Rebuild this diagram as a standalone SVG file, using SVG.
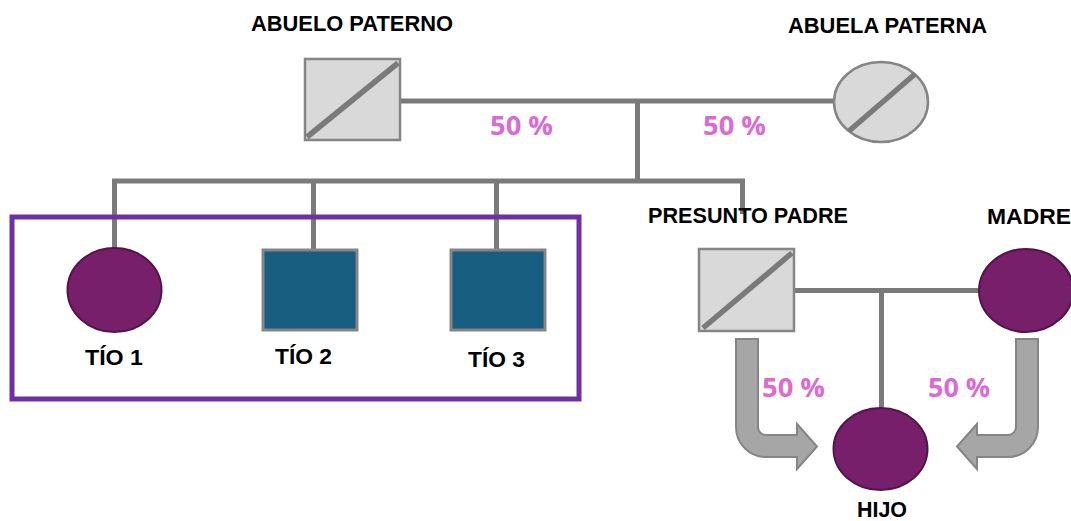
<svg xmlns="http://www.w3.org/2000/svg" width="1071" height="521" viewBox="0 0 1071 521">
<style>
.lbl{font-family:"Liberation Sans",Arial,sans-serif;font-weight:bold;fill:#000;font-size:22px;text-anchor:start}
.pct{font-family:"Open Sans","Liberation Sans",sans-serif;font-weight:bold;fill:#da6bd3;font-size:26px}
.con{stroke:#7a7a7a;stroke-width:5;fill:none}
.grey{fill:#d9d9d9;stroke:#858585;stroke-width:2.5}
.diag{stroke:#7a7a7a;stroke-width:5.5;fill:none}
.fem{fill:#771f6a;stroke:#531548;stroke-width:2}
.male{fill:#175e80;stroke:#858585;stroke-width:3}
.arrow{fill:#a6a6a6;stroke:#858585;stroke-width:2}
</style>
<g id="connectors">
<path class="con" d="M400,101 H834"/>
<path class="con" d="M637.5,101 V181"/>
<path class="con" d="M114.5,248 V181 H742.5 V214"/>
<path class="con" d="M313.5,181 V250"/>
<path class="con" d="M496.5,181 V250"/>
<path class="con" d="M794,290.5 H980"/>
<path class="con" d="M881.5,290.5 V409"/>
</g>
<g id="tios-box"><rect x="12" y="217" width="567" height="182" fill="none" stroke="#7030a0" stroke-width="5"/></g>
<g id="abuelo-paterno">
<rect class="grey" x="305" y="59" width="95" height="81"/>
<path class="diag" d="M307,137 L398,63"/>
<text class="lbl" x="251" y="31" textLength="202" lengthAdjust="spacingAndGlyphs">ABUELO PATERNO</text>
</g>
<g id="abuela-paterna">
<ellipse class="grey" cx="881" cy="102" rx="47" ry="40"/>
<path class="diag" d="M849,131 L915,74"/>
<text class="lbl" x="788" y="33" textLength="199" lengthAdjust="spacingAndGlyphs">ABUELA PATERNA</text>
</g>
<g id="pct-top">
<text class="pct" x="490" y="135" textLength="63" lengthAdjust="spacingAndGlyphs">50 %</text>
<text class="pct" x="703" y="135" textLength="63" lengthAdjust="spacingAndGlyphs">50 %</text>
</g>
<g id="tio1">
<ellipse class="fem" cx="114.5" cy="290" rx="47" ry="42"/>
<text class="lbl" x="85" y="365" textLength="58" lengthAdjust="spacingAndGlyphs">TÍO 1</text>
</g>
<g id="tio2">
<rect class="male" x="263" y="250" width="94" height="80"/>
<text class="lbl" x="275" y="364" textLength="57" lengthAdjust="spacingAndGlyphs">TÍO 2</text>
</g>
<g id="tio3">
<rect class="male" x="451" y="250" width="94" height="80"/>
<text class="lbl" x="468" y="367" textLength="57" lengthAdjust="spacingAndGlyphs">TÍO 3</text>
</g>
<g id="presunto-padre">
<rect class="grey" x="699" y="249" width="95" height="82"/>
<path class="diag" d="M703,328 L792,253"/>
<text class="lbl" x="648" y="223" textLength="200" lengthAdjust="spacingAndGlyphs">PRESUNTO PADRE</text>
</g>
<g id="madre">
<ellipse class="fem" cx="1026" cy="290.5" rx="47" ry="41.5"/>
<text class="lbl" x="987" y="224" textLength="84" lengthAdjust="spacingAndGlyphs">MADRE</text>
</g>
<g id="hijo">
<ellipse class="fem" cx="880.5" cy="449" rx="47" ry="41"/>
<text class="lbl" x="857" y="517" textLength="50" lengthAdjust="spacingAndGlyphs">HIJO</text>
</g>
<g id="arrows">
<path class="arrow" d="M736,339 H758 V427 A8,8 0 0 0 766,435 H797 V424 L817,446.5 L797,469 V457 H766 A30,30 0 0 1 736,427 Z"/>
<path class="arrow" transform="translate(1774,0) scale(-1,1)" d="M736,339 H758 V427 A8,8 0 0 0 766,435 H797 V424 L817,446.5 L797,469 V457 H766 A30,30 0 0 1 736,427 Z"/>
<text class="pct" x="762" y="397" textLength="63" lengthAdjust="spacingAndGlyphs">50 %</text>
<text class="pct" x="928" y="397" textLength="62" lengthAdjust="spacingAndGlyphs">50 %</text>
</g>
</svg>
